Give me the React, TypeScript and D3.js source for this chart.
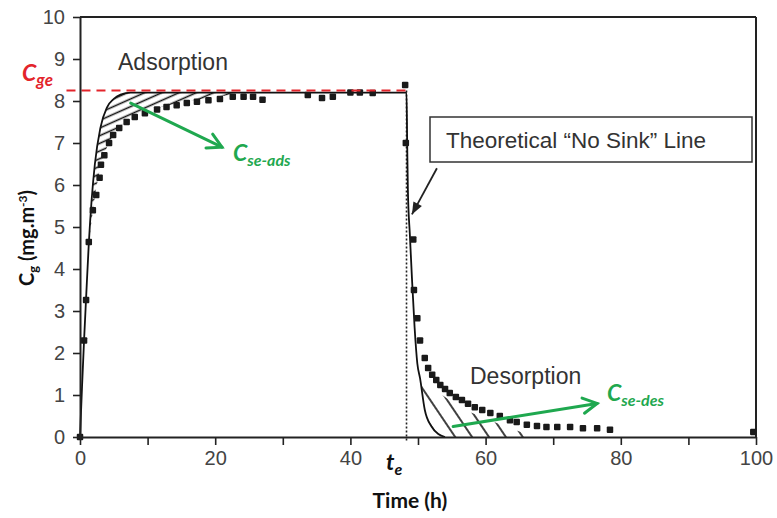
import React, { useEffect, useRef } from "react";
import * as d3 from "d3";

const W = 777;
const H = 518;
const margin = { top: 17, right: 21, bottom: 81, left: 80 };

// measured points, adsorption phase (time h, Cg mg/m3)
const adsTime = [0, 0.6, 0.9, 1.3, 1.9, 2.4, 2.9, 3.1, 3.6, 4.3, 4.9, 5.8, 6.9, 8.1, 9.6, 11.4, 12.8, 14.3, 15.8, 17.3, 19.0, 20.7, 22.6, 24.2, 25.6, 27.0, 33.7, 35.8, 37.4, 40.0, 41.4, 43.3, 48.1, 48.2];
const adsConc = [0, 2.3, 3.26, 4.64, 5.4, 5.76, 6.17, 6.48, 6.71, 7.0, 7.19, 7.36, 7.5, 7.62, 7.71, 7.8, 7.86, 7.9, 7.95, 7.98, 8.02, 8.05, 8.1, 8.1, 8.1, 8.03, 8.14, 8.07, 8.1, 8.2, 8.2, 8.19, 8.38, 7.0];

// measured points, desorption phase
const desTime = [49.3, 49.4, 49.9, 50.3, 51.0, 51.5, 52.1, 52.7, 53.3, 54.0, 54.7, 55.6, 56.5, 57.4, 58.4, 59.5, 60.7, 62.1, 63.6, 64.6, 66.1, 67.6, 69.0, 70.6, 72.5, 74.4, 76.5, 78.4, 99.6];
const desConc = [4.7, 3.5, 2.83, 2.3, 1.88, 1.64, 1.48, 1.36, 1.24, 1.14, 1.05, 0.95, 0.88, 0.79, 0.71, 0.64, 0.57, 0.5, 0.4, 0.36, 0.29, 0.26, 0.24, 0.24, 0.24, 0.21, 0.21, 0.17, 0.12];

// theoretical "no sink" line
const theoTime = [0, 0.3, 0.6, 0.9, 1.3, 1.7, 2.2, 3.0, 4.0, 5.0, 6.0, 7.5, 48.3, 48.4, 48.5, 48.8, 49.1, 49.5, 49.9, 50.3, 51.0, 52.0, 53.0, 54.0];
const theoConc = [0, 1.2, 2.3, 3.3, 4.6, 5.6, 6.5, 7.35, 7.85, 8.05, 8.15, 8.2, 8.2, 7.0, 5.9, 4.8, 3.8, 2.6, 1.75, 1.4, 0.65, 0.25, 0.07, 0];

// boundaries of the hatched (sink) areas
const adsSinkTime = [1.3, 2.0, 2.5, 3.0, 4.0, 5.0, 6.0, 8.0, 10, 12, 15, 18, 21, 24, 26];
const adsSinkConc = [4.6, 5.5, 6.0, 6.4, 6.9, 7.2, 7.4, 7.62, 7.76, 7.86, 7.96, 8.05, 8.12, 8.18, 8.2];
const desSinkTime = [49.9, 51, 52, 54, 56, 58, 60, 62, 64, 66, 67];
const desSinkConc = [1.75, 1.45, 1.22, 0.95, 0.74, 0.57, 0.44, 0.31, 0.19, 0.07, 0];

const cge = 8.25;
const te = 48.3;

const xTickValues = [0, 10, 20, 30, 40, 50, 60, 70, 80, 90, 100];
const xTickLabels = ["0", "", "20", "", "40", "", "60", "", "80", "", "100"];
const yTickValues = [0, 1, 2, 3, 4, 5, 6, 7, 8, 9, 10];

const green = "#1fa84f";
const red = "#e3242b";
const labelFont = "Lato, 'Liberation Sans', sans-serif";
const plainFont = "'Liberation Sans', Arial, sans-serif";

const zip = (a: number[], b: number[]): [number, number][] => a.map((v, i) => [v, b[i]]);

function arrowHead(x1: number, y1: number, x2: number, y2: number, len: number, spread: number) {
  const a = Math.atan2(y2 - y1, x2 - x1);
  const p1 = [x2 - len * Math.cos(a - spread), y2 - len * Math.sin(a - spread)];
  const p2 = [x2 - len * Math.cos(a + spread), y2 - len * Math.sin(a + spread)];
  return { p1, p2 };
}

export default function App() {
  const xAxisRef = useRef<SVGGElement>(null);
  const yAxisRef = useRef<SVGGElement>(null);

  const x = d3.scaleLinear().domain([0, 100]).range([margin.left, W - margin.right]);
  const y = d3.scaleLinear().domain([0, 10]).range([H - margin.bottom, margin.top]);

  useEffect(() => {
    const gx = d3.select(xAxisRef.current!);
    gx.call(
      d3
        .axisBottom(x)
        .tickValues(xTickValues)
        .tickFormat((_d, i) => xTickLabels[i])
        .tickSize(8)
        .tickSizeOuter(0)
        .tickPadding(6)
    );
    const gy = d3.select(yAxisRef.current!);
    gy.call(d3.axisLeft(y).tickValues(yTickValues).tickSize(7).tickSizeOuter(0).tickPadding(8));
    [gx, gy].forEach((g) => {
      g.select(".domain").attr("stroke", "#222").attr("stroke-width", 2);
      g.selectAll(".tick line").attr("stroke", "#222").attr("stroke-width", 1.6);
      g.selectAll(".tick text")
        .attr("fill", "#444")
        .attr("font-size", 20)
        .attr("font-family", plainFont);
    });
  }, []);

  const lineMono = d3
    .line<[number, number]>()
    .x((d) => x(d[0]))
    .y((d) => y(d[1]))
    .curve(d3.curveMonotoneX);

  const theo = zip(theoTime, theoConc);
  const adsSink = zip(adsSinkTime, adsSinkConc);
  const desSink = zip(desSinkTime, desSinkConc);

  const adsUpper = theo.filter(([t]) => t >= adsSinkTime[0] && t < 20).concat([adsSink[adsSink.length - 1]]);
  const adsHatch =
    lineMono(adsUpper)! + lineMono(adsSink.slice().reverse())!.replace("M", "L") + "Z";

  const desLower = theo.filter(([t]) => t >= desSinkTime[0]);
  const desHatch =
    lineMono(desSink)! +
    "L" + x(desLower[desLower.length - 1][0]) + "," + y(0) +
    lineMono(desLower.slice().reverse())!.replace("M", "L") +
    "Z";

  // annotation arrows in data coordinates
  const adsArrow = [x(7.5), y(7.95), x(21), y(6.9)];
  const desArrow = [x(55.2), y(0.25), x(76.5), y(0.8)];
  const boxArrow = [x(52.8), y(6.4), x(49.1), y(5.3)];

  const head1 = arrowHead(adsArrow[0], adsArrow[1], adsArrow[2], adsArrow[3], 16, 0.5);
  const head2 = arrowHead(desArrow[0], desArrow[1], desArrow[2], desArrow[3], 16, 0.5);
  const head3 = arrowHead(boxArrow[0], boxArrow[1], boxArrow[2], boxArrow[3], 13, 0.38);

  const square = 6.5;

  return (
    <svg width={W} height={H} style={{ position: "absolute", left: 0, top: 0, background: "#fff" }}>
      <defs>
        <pattern id="hatchAds" patternUnits="userSpaceOnUse" width={20} height={7} patternTransform="rotate(-24)">
          <line x1={0} y1={3.5} x2={20} y2={3.5} stroke="#111" strokeWidth={1.6} />
        </pattern>
        <pattern id="hatchDes" patternUnits="userSpaceOnUse" width={20} height={14} patternTransform="rotate(56)">
          <line x1={0} y1={7} x2={20} y2={7} stroke="#111" strokeWidth={1.6} />
        </pattern>
      </defs>

      {/* frame */}
      <line x1={x(0)} y1={y(10)} x2={x(100)} y2={y(10)} stroke="#222" strokeWidth={2} />
      <line x1={x(100)} y1={y(10)} x2={x(100)} y2={y(0)} stroke="#222" strokeWidth={2} />

      {/* hatched sink areas */}
      <path d={adsHatch} fill="url(#hatchAds)" stroke="none" />
      <path d={desHatch} fill="url(#hatchDes)" stroke="none" />

      {/* t_e dotted line */}
      <line x1={x(te)} y1={y(cge)} x2={x(te)} y2={y(0) + 4} stroke="#222" strokeWidth={1.6} strokeDasharray="2,2" />

      {/* theoretical line */}
      <path d={lineMono(theo)!} fill="none" stroke="#111" strokeWidth={1.8} />

      {/* measured squares */}
      {zip(adsTime, adsConc).concat(zip(desTime, desConc)).map(([t, c], i) => (
        <rect key={i} x={x(t) - square / 2} y={y(c) - square / 2} width={square} height={square} fill="#1a1a1a" rx={1} />
      ))}

      {/* C_ge dashed */}
      <line x1={x(-2)} y1={y(cge)} x2={x(te)} y2={y(cge)} stroke={red} strokeWidth={2} strokeDasharray="9,6" />

      <g ref={xAxisRef} transform={`translate(0,${y(0)})`} />
      <g ref={yAxisRef} transform={`translate(${x(0)},0)`} />

      {/* phase labels */}
      <text x={118} y={70} fontFamily={plainFont} fontSize={23} fill="#333">Adsorption</text>
      <text x={470} y={384} fontFamily={plainFont} fontSize={23} fill="#333">Desorption</text>

      {/* no sink box */}
      <rect x={430} y={117} width={322} height={45} fill="#fff" stroke="#333" strokeWidth={1.5} />
      <text x={446} y={148} fontFamily={plainFont} fontSize={22.5} fill="#333">Theoretical “No Sink” Line</text>
      <line x1={boxArrow[0]} y1={boxArrow[1]} x2={boxArrow[2]} y2={boxArrow[3]} stroke="#222" strokeWidth={1.8} />
      <polygon
        points={`${boxArrow[2]},${boxArrow[3]} ${head3.p1[0]},${head3.p1[1]} ${head3.p2[0]},${head3.p2[1]}`}
        fill="#222"
      />

      {/* green arrows */}
      <g stroke={green} strokeWidth={3} fill="none" strokeLinecap="round">
        <line x1={adsArrow[0]} y1={adsArrow[1]} x2={adsArrow[2]} y2={adsArrow[3]} />
        <polyline points={`${head1.p1[0]},${head1.p1[1]} ${adsArrow[2]},${adsArrow[3]} ${head1.p2[0]},${head1.p2[1]}`} />
        <line x1={desArrow[0]} y1={desArrow[1]} x2={desArrow[2]} y2={desArrow[3]} />
        <polyline points={`${head2.p1[0]},${head2.p1[1]} ${desArrow[2]},${desArrow[3]} ${head2.p2[0]},${head2.p2[1]}`} />
      </g>

      <text x={233} y={161} fontFamily={labelFont} fontWeight="bold" fontStyle="italic" fill={green} fontSize={23}>
        C<tspan fontSize={16} dy={5}>se-ads</tspan>
      </text>
      <text x={607} y={401} fontFamily={labelFont} fontWeight="bold" fontStyle="italic" fill={green} fontSize={23}>
        C<tspan fontSize={16} dy={5}>se-des</tspan>
      </text>

      <text x={22} y={81} fontFamily={labelFont} fontWeight="bold" fontStyle="italic" fill={red} fontSize={23}>
        C<tspan fontSize={17} dy={5}>ge</tspan>
      </text>

      <text x={386} y={470} fontFamily={labelFont} fontWeight="bold" fontStyle="italic" fill="#111" fontSize={23}>
        t<tspan fontSize={16} dy={5}>e</tspan>
      </text>

      {/* axis titles */}
      <text x={410} y={508} textAnchor="middle" fontFamily={labelFont} fontWeight="bold" fontSize={21} fill="#111">
        Time (h)
      </text>
      <text transform="translate(34,238) rotate(-90)" textAnchor="middle" fontFamily={labelFont} fontWeight="bold" fontSize={20} fill="#111">
        C<tspan fontSize={13} dy={4}>g</tspan>
        <tspan dy={-4}> (mg.m</tspan>
        <tspan fontSize={12} dy={-7}>-3</tspan>
        <tspan dy={7}>)</tspan>
      </text>
    </svg>
  );
}
